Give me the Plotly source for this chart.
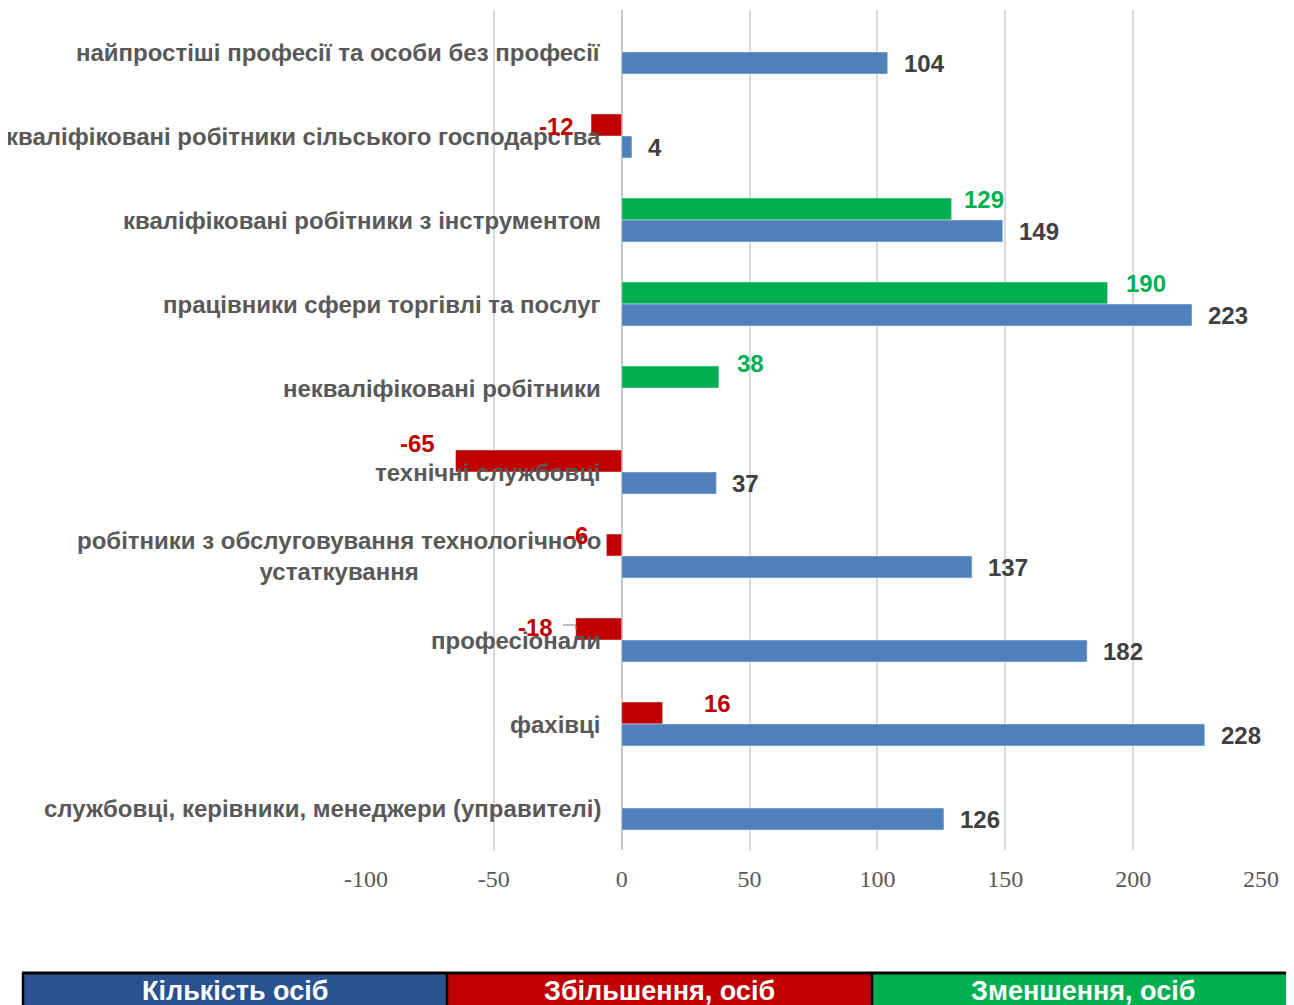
import plotly.graph_objects as go

# ---------------- data ----------------
categories = [
    "найпростіші професії та особи без професії",
    "кваліфіковані робітники сільського господарства",
    "кваліфіковані робітники з інструментом",
    "працівники сфери торгівлі та послуг",
    "некваліфіковані робітники",
    "технічні службовці",
    "робітники з обслуговування технологічного<br>устаткування",
    "професіонали",
    "фахівці",
    "службовці, керівники, менеджери (управителі)",
]
count_people = [104, 4, 149, 223, None, 37, 137, 182, 228, 126]
increase_people = [None, -12, None, None, None, -65, -6, -18, 16, None]
decrease_people = [None, None, 129, 190, 38, None, None, None, None, None]

x_ticks = [-100, -50, 0, 50, 100, 150, 200, 250]
x_tick_text = ["-100", "-50", "0", "50", "100", "150", "200", "250"]
legend_names = ["Кількість осіб", "Збільшення, осіб", "Зменшення, осіб"]

# ---------------- styles ----------------
BLUE = "#4F81BD"
RED = "#C00000"
GREEN = "#00B050"
LEG_BLUE = "#2A5291"
SANS = "Liberation Sans, Arial, sans-serif"

OFF = 8                      # page body margin in the browser
PAGE_W, PAGE_H = 1294, 1005
W, H = PAGE_W - OFF, PAGE_H - OFF
# plot area in page pixels
PL, PR, PT, PB = 366, 1261, 10, 850
ML, MR, MT, MB = PL - OFF, W - (PR - OFF), PT - OFF, H - (PB - OFF)
PW, PH = W - ML - MR, H - MT - MB


def px_x(p):
    return (p - OFF - ML) / PW


def px_y(p):
    return (H - MB - (p - OFF)) / PH


# label nudges (pixels): (gap from bar end, upward shift from category centre)
change_nudge = {1: (15, 10), 2: (10, 21), 3: (16, 21), 4: (16, 25),
                5: (19, 29), 6: (16, 21), 7: (21, 13), 8: (39, 21)}

fig = go.Figure()
fig.add_trace(go.Bar(y=categories, x=increase_people, orientation="h",
                     marker_color=RED, offsetgroup="change", name=legend_names[1]))
fig.add_trace(go.Bar(y=categories, x=decrease_people, orientation="h",
                     marker_color=GREEN, offsetgroup="change", name=legend_names[2]))
fig.add_trace(go.Bar(y=categories, x=count_people, orientation="h",
                     marker_color=BLUE, offsetgroup="count", name=legend_names[0]))

annotations = []
# category labels next to the zero axis
for cat in categories:
    annotations.append(dict(
        x=0, y=cat, xref="x", yref="y", text=cat, showarrow=False,
        xanchor="right", yanchor="middle", xshift=-19, align="center",
        font=dict(family=SANS, size=24, color="#595959", weight="bold")))

# count labels
for cat, v in zip(categories, count_people):
    if v is None:
        continue
    annotations.append(dict(
        x=v, y=cat, xref="x", yref="y", text=str(v), showarrow=False,
        xanchor="left", yanchor="middle", xshift=14, yshift=-11,
        font=dict(family=SANS, size=24, color="#404040", weight="bold")))

# change labels
for i, cat in enumerate(categories):
    for vals, col in ((increase_people, RED), (decrease_people, GREEN)):
        v = vals[i]
        if v is None:
            continue
        gap, up = change_nudge.get(i, (15, 11))
        annotations.append(dict(
            x=v, y=cat, xref="x", yref="y", text=str(v), showarrow=False,
            xanchor="right" if v < 0 else "left", yanchor="middle",
            xshift=-gap if v < 0 else gap, yshift=up,
            font=dict(family=SANS, size=24, color=col, weight="bold")))

shapes = []
# small leader line next to the "-18" label
shapes.append(dict(type="path", xref="paper", yref="paper",
                   path=f"M {px_x(563)} {px_y(625)} L {px_x(575)} {px_y(625)} L {px_x(576)} {px_y(629)}",
                   line=dict(color="#A6A6A6", width=1.5)))

# custom legend row at the bottom: coloured cells + black grid lines
LEG_TOP, LEG_BOT = 973, 1015
legend_boxes = [(23, 447, LEG_BLUE), (447, 872, RED), (872, 1320, GREEN)]
for (x0, x1, col), name in zip(legend_boxes, legend_names):
    shapes.append(dict(type="rect", xref="paper", yref="paper",
                       x0=px_x(x0), x1=px_x(x1), y0=px_y(LEG_BOT), y1=px_y(LEG_TOP),
                       fillcolor=col, line=dict(width=0)))
    annotations.append(dict(
        x=px_x((x0 + min(x1, PAGE_W)) / 2), y=px_y(991), xref="paper", yref="paper",
        text=name, showarrow=False, xanchor="center", yanchor="middle",
        font=dict(family=SANS, size=27, color="white", weight="bold")))
shapes.append(dict(type="line", xref="paper", yref="paper",
                   x0=px_x(22), x1=px_x(1320), y0=px_y(LEG_TOP), y1=px_y(LEG_TOP),
                   line=dict(color="black", width=3)))
for xb in (23, 447, 872):
    shapes.append(dict(type="line", xref="paper", yref="paper",
                       x0=px_x(xb), x1=px_x(xb), y0=px_y(LEG_TOP), y1=px_y(LEG_BOT),
                       line=dict(color="black", width=2.5)))

fig.update_layout(
    width=W, height=H,
    margin=dict(l=ML, r=MR, t=MT, b=MB),
    paper_bgcolor="white", plot_bgcolor="white",
    barmode="group", bargap=0.476, bargroupgap=0,
    showlegend=False,
    annotations=annotations, shapes=shapes,
    xaxis=dict(range=[-100, 250], tickvals=x_ticks, ticktext=x_tick_text,
               showgrid=True, gridcolor="#D9D9D9", gridwidth=2, zeroline=True,
               zerolinecolor="#C8C8C8", zerolinewidth=2, showline=False,
               ticks="", ticklabelstandoff=12,
               tickfont=dict(family="Liberation Serif, DejaVu Serif, serif",
                             size=24, color="#595959")),
    yaxis=dict(autorange="reversed", showticklabels=False, showgrid=False,
               zeroline=False, showline=False, ticks=""),
)

fig.write_html("out.html")
